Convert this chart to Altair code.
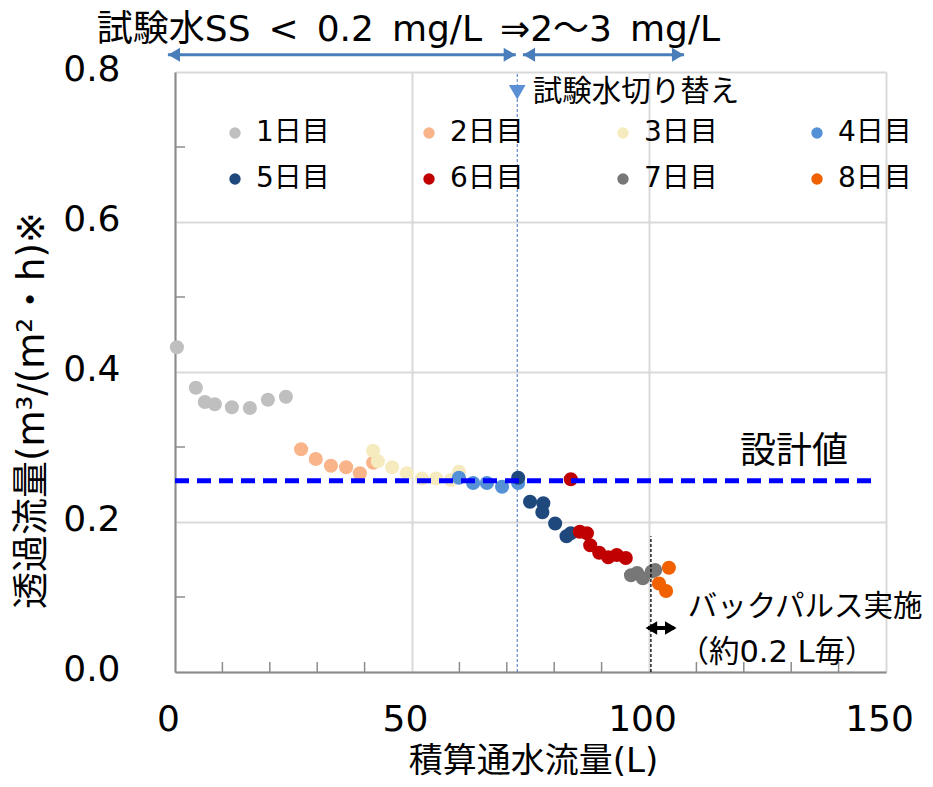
import altair as alt
import pandas as pd

FONT = 'DejaVu Sans, "Noto Sans CJK JP"'

# ---- data ----
days = ["1日目", "2日目", "3日目", "4日目", "5日目", "6日目", "7日目", "8日目"]
colors = ["#bfbfbf", "#f9b48a", "#f6ebbf", "#5591d6", "#1f497d", "#c00000", "#777777", "#f26100"]

day1_x = [0.4, 4.4, 6.3, 8.4, 12.0, 15.8, 19.6, 23.4]
day1_y = [0.433, 0.379, 0.360, 0.357, 0.353, 0.352, 0.363, 0.367]
day2_x = [26.6, 29.7, 32.9, 36.1, 39.0, 41.8]
day2_y = [0.297, 0.284, 0.275, 0.273, 0.265, 0.279]
day3_x = [41.8, 42.8, 45.8, 48.9, 52.1, 55.1, 58.2, 59.9]
day3_y = [0.295, 0.281, 0.273, 0.265, 0.258, 0.258, 0.256, 0.267]
day4_x = [59.9, 62.9, 65.8, 69.0, 72.4]
day4_y = [0.259, 0.252, 0.252, 0.247, 0.252]
day5_x = [72.4, 74.9, 77.7, 77.5, 80.2, 82.6, 83.5]
day5_y = [0.259, 0.227, 0.225, 0.213, 0.198, 0.181, 0.185]
day6_x = [83.5, 85.4, 86.9, 87.6, 89.5, 91.4, 93.2, 95.1]
day6_y = [0.257, 0.187, 0.185, 0.169, 0.159, 0.153, 0.156, 0.152]
day7_x = [96.2, 97.5, 98.7, 100.6, 101.3]
day7_y = [0.129, 0.132, 0.125, 0.134, 0.136]
day8_x = [104.2, 102.1, 103.6]
day8_y = [0.139, 0.118, 0.108]

design_value = 0.255
switch_x = 72.2
backpulse_x = 100.4

x_ticks = [0, 50, 100, 150]
y_ticks = [0.0, 0.2, 0.4, 0.6, 0.8]
x_minor = [10, 20, 30, 40, 60, 70, 80, 90, 110, 120, 130, 140]
y_minor = [0.1, 0.3, 0.5, 0.7]

EN = "\u2002"  # en space, as the original text box spaces are wide
top_label = "試験水SS" + EN + "<" + EN + "0.2" + EN + "mg/L" + EN + "⇒2～3" + EN + "mg/L"

all_x = [day1_x, day2_x, day3_x, day4_x, day5_x, day6_x, day7_x, day8_x]
all_y = [day1_y, day2_y, day3_y, day4_y, day5_y, day6_y, day7_y, day8_y]

rows = []
for i, (xs_, ys_) in enumerate(zip(all_x, all_y)):
    for xv, yv in zip(xs_, ys_):
        rows.append({"x": xv, "y": yv, "day": days[i], "order": i})
pts = pd.DataFrame(rows)

W, H = 711, 600
xs = alt.Scale(domain=[0, 150], nice=False, zero=False)
ys = alt.Scale(domain=[0, 0.8], nice=False, zero=False)

points = alt.Chart(pts).mark_circle(size=200, opacity=1).encode(
    x=alt.X("x:Q", scale=xs, axis=alt.Axis(
        values=x_ticks, title="積算通水流量(L)", grid=True, gridColor="#d9d9d9", gridWidth=2,
        domainColor="#8c8c8c", domainWidth=2, ticks=False,
        labelFont=FONT, labelFontSize=36, labelColor="black", labelPadding=58, labelOffset=-7,
        labelBaseline="alphabetic", labelFlush=False, labelOverlap=False,
        titleFont=FONT, titleFontSize=34, titleFontWeight="normal", titleColor="black",
        titleX=358, titleY=99, titleBaseline="alphabetic")),
    y=alt.Y("y:Q", scale=ys, axis=alt.Axis(
        values=y_ticks, format=".1f", title="透過流量(m³/(m²・h)※", grid=True,
        gridColor="#d9d9d9", gridWidth=2, domainColor="#8c8c8c", domainWidth=2, ticks=False,
        labelFont=FONT, labelFontSize=36, labelColor="black", labelPadding=55, labelOffset=8,
        labelBaseline="alphabetic", labelFlush=False, labelOverlap=False,
        titleFont=FONT, titleFontSize=37, titleFontWeight="normal", titleColor="black",
        titleX=-143, titleY=338, titleBaseline="middle", titleAlign="center")),
    color=alt.Color("day:N", scale=alt.Scale(domain=days, range=colors), legend=alt.Legend(
        title=None, orient="none", legendX=46, legendY=47, columns=4, direction="horizontal",
        gridAlign="all",
        symbolType="circle", symbolSize=130, symbolStrokeWidth=0, symbolOpacity=1,
        labelFont=FONT, labelFontSize=28, labelColor="black", labelOffset=7,
        columnPadding=85, rowPadding=18, padding=0)),
    order=alt.Order("order:Q"),
)

switch_df = pd.DataFrame({"x": [switch_x], "y": [0.0], "y2": [0.8]})
switch_line = alt.Chart(switch_df).mark_rule(color="#4472c4", strokeWidth=1, strokeDash=[3, 2]).encode(
    x=alt.X("x:Q", scale=xs), y=alt.Y("y:Q", scale=ys), y2="y2:Q")

design_df = pd.DataFrame({"x": [0.0], "x2": [148.0], "y": [design_value]})
design_line = alt.Chart(design_df).mark_rule(color="#0000ff", strokeWidth=5, strokeDash=[14, 8]).encode(
    x=alt.X("x:Q", scale=xs), x2="x2:Q", y=alt.Y("y:Q", scale=ys))

bp_df = pd.DataFrame({"x": [backpulse_x], "y": [0.0], "y2": [0.181]})
bp_line = alt.Chart(bp_df).mark_rule(color="black", strokeWidth=1.3, strokeDash=[3, 2]).encode(
    x=alt.X("x:Q", scale=xs), y=alt.Y("y:Q", scale=ys), y2="y2:Q")

xminor_df = pd.DataFrame({"x": x_minor})
xminor = alt.Chart(xminor_df).mark_rule(color="#8c8c8c", strokeWidth=1.5).encode(
    x=alt.X("x:Q", scale=xs), y=alt.value(H), y2=alt.value(H - 10))
yminor_df = pd.DataFrame({"y": y_minor})
yminor = alt.Chart(yminor_df).mark_rule(color="#8c8c8c", strokeWidth=1.5).encode(
    y=alt.Y("y:Q", scale=ys), x=alt.value(0), x2=alt.value(10))

# arrows on top
arr_y = 0.823
arrow_lines_df = pd.DataFrame({"x": [-1.5, 73.4], "x2": [71.9, 107.4], "y": [arr_y, arr_y]})
arrow_lines = alt.Chart(arrow_lines_df).mark_rule(color="#4a7ebb", strokeWidth=3).encode(
    x=alt.X("x:Q", scale=xs), x2="x2:Q", y=alt.Y("y:Q", scale=ys))
heads_df = pd.DataFrame({"x": [-0.2, 70.6, 74.7, 106.1], "y": [arr_y] * 4,
                         "shape": ["triangle-left", "triangle-right", "triangle-left", "triangle-right"]})
heads = alt.Chart(heads_df).mark_point(filled=True, size=190, color="#4a7ebb", opacity=1).encode(
    x=alt.X("x:Q", scale=xs), y=alt.Y("y:Q", scale=ys), shape=alt.Shape("shape:N", scale=None))

# back pulse double arrow
dbl_y = 0.0587
dbl_line_df = pd.DataFrame({"x": [99.8], "x2": [105.3], "y": [dbl_y]})
dbl_line = alt.Chart(dbl_line_df).mark_rule(color="black", strokeWidth=4).encode(
    x=alt.X("x:Q", scale=xs), x2="x2:Q", y=alt.Y("y:Q", scale=ys))
dbl_heads_df = pd.DataFrame({"x": [100.5, 104.6], "y": [dbl_y, dbl_y],
                             "shape": ["triangle-left", "triangle-right"]})
dbl_heads = alt.Chart(dbl_heads_df).mark_point(filled=True, size=180, color="black", opacity=1).encode(
    x=alt.X("x:Q", scale=xs), y=alt.Y("y:Q", scale=ys), shape=alt.Shape("shape:N", scale=None))

# switch marker
tri_df = pd.DataFrame({"x": [switch_x], "y": [0.773]})
tri = alt.Chart(tri_df).mark_point(filled=True, shape="triangle-down", size=280, color="#5b8fd6", opacity=1).encode(
    x=alt.X("x:Q", scale=xs), y=alt.Y("y:Q", scale=ys))

texts_df = pd.DataFrame({
    "x": [-16.5, 75.5, 119.2, 108.2, 106.2],
    "y": [0.856, 0.773, 0.293, 0.087, 0.0253],
    "label": [top_label, "試験水切り替え", "設計値", "バックパルス実施", "（約0.2 L毎）"],
    "size": [36, 29.5, 36, 29.5, 30.5],
})
texts = alt.Chart(texts_df).mark_text(align="left", baseline="middle", font=FONT, color="black").encode(
    x=alt.X("x:Q", scale=xs), y=alt.Y("y:Q", scale=ys), text="label:N",
    size=alt.Size("size:Q", scale=None))

chart = alt.layer(
    switch_line, xminor, yminor, points, design_line, bp_line,
    arrow_lines, heads, dbl_line, dbl_heads, tri, texts
).properties(
    width=W, height=H,
    autosize=alt.AutoSizeParams(type="none"),
    padding={"left": 167, "top": 64, "right": 39, "bottom": 107},
).configure_view(
    stroke="black", strokeWidth=2.5
).configure(background="white")

chart.save("out.html", embed_options={"renderer": "svg", "actions": False})
